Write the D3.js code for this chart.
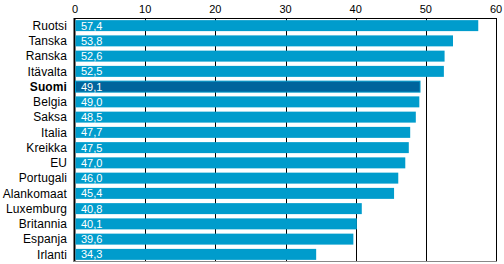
<!DOCTYPE html>
<html>
<head>
<meta charset="utf-8">
<script src="https://d3js.org/d3.v7.min.js"></script>
<style>
  body { margin: 0; background: #fff; }
  svg { display: block; }
</style>
</head>
<body>
<div id="chart"></div>
<script>
// data
var countries = ["Ruotsi", "Tanska", "Ranska", "Itävalta", "Suomi", "Belgia", "Saksa", "Italia",
                 "Kreikka", "EU", "Portugali", "Alankomaat", "Luxemburg", "Britannia", "Espanja", "Irlanti"];
var values = [57.4, 53.8, 52.6, 52.5, 49.1, 49.0, 48.5, 47.7, 47.5, 47.0, 46.0, 45.4, 40.8, 40.1, 39.6, 34.3];
var ticks = [0, 10, 20, 30, 40, 50, 60];
var highlight = "Suomi";

var data = countries.map(function(c, i) { return { name: c, value: values[i] }; });

var margin = {top: 18, right: 8, bottom: 2, left: 75},
    width = 504 - margin.left - margin.right,
    height = 264 - margin.top - margin.bottom;

var svg = d3.select("#chart")
  .append("svg")
    .attr("width", 504)
    .attr("height", 264)
  .append("g")
    .attr("transform", "translate(" + margin.left + "," + margin.top + ")");

var x = d3.scaleLinear().domain([0, 60]).range([0, width]);
var y = d3.scaleBand().domain(countries).range([0, height]).paddingInner(0.28).paddingOuter(0.14);

// grid lines
svg.selectAll(".grid")
  .data(ticks.slice(1, -1))
  .enter().append("line")
    .attr("x1", function(d) { return Math.round(x(d)) + 0.5; })
    .attr("x2", function(d) { return Math.round(x(d)) + 0.5; })
    .attr("y1", 0)
    .attr("y2", height)
    .attr("stroke", "#000")
    .attr("stroke-width", 1);

// frame
svg.append("line").attr("x1", -0.5).attr("x2", width + 0.5).attr("y1", 0.5).attr("y2", 0.5).attr("stroke", "#000");
svg.append("line").attr("x1", width + 0.5).attr("x2", width + 0.5).attr("y1", 0).attr("y2", height).attr("stroke", "#000");
svg.append("line").attr("x1", -0.5).attr("x2", -0.5).attr("y1", 0).attr("y2", height).attr("stroke", "#000").attr("stroke-width", 2);
svg.append("line").attr("x1", -1).attr("x2", width + 1).attr("y1", height - 0.5).attr("y2", height - 0.5).attr("stroke", "#888");

// bars
svg.selectAll(".bar")
  .data(data)
  .enter().append("rect")
    .attr("x", 0.5)
    .attr("y", function(d) { return y(d.name); })
    .attr("width", function(d) { return x(d.value); })
    .attr("height", y.bandwidth())
    .attr("fill", function(d) { return d.name === highlight ? "#00649c" : "#009ccc"; })
    .attr("stroke", function(d) { return d.name === highlight ? "#009ccc" : "none"; })
    .attr("stroke-width", 1);

// value labels
svg.selectAll(".val")
  .data(data)
  .enter().append("text")
    .attr("x", 6)
    .attr("y", function(d) { return y(d.name) + y.bandwidth() / 2; })
    .attr("dy", "0.36em")
    .attr("fill", "#fff")
    .style("font-family", "'Liberation Sans', Arial, sans-serif")
    .style("font-size", "11px")
    .text(function(d) { return d3.format(".1f")(d.value).replace(".", ","); });

// category labels
svg.selectAll(".cat")
  .data(data)
  .enter().append("text")
    .attr("x", -8)
    .attr("y", function(d) { return y(d.name) + y.bandwidth() / 2; })
    .attr("dy", "0.36em")
    .attr("text-anchor", "end")
    .attr("fill", "#000")
    .style("font-family", "'Liberation Sans', Arial, sans-serif")
    .style("font-size", "12px")
    .style("letter-spacing", "0.1px")
    .style("font-weight", function(d) { return d.name === highlight ? "bold" : "normal"; })
    .text(function(d) { return d.name; });

// tick labels
svg.selectAll(".tick-label")
  .data(ticks)
  .enter().append("text")
    .attr("x", function(d) { return x(d); })
    .attr("y", -5)
    .attr("text-anchor", "middle")
    .attr("fill", "#000")
    .style("font-family", "'Liberation Sans', Arial, sans-serif")
    .style("font-size", "11px")
    .text(function(d) { return d; });
</script>
</body>
</html>
